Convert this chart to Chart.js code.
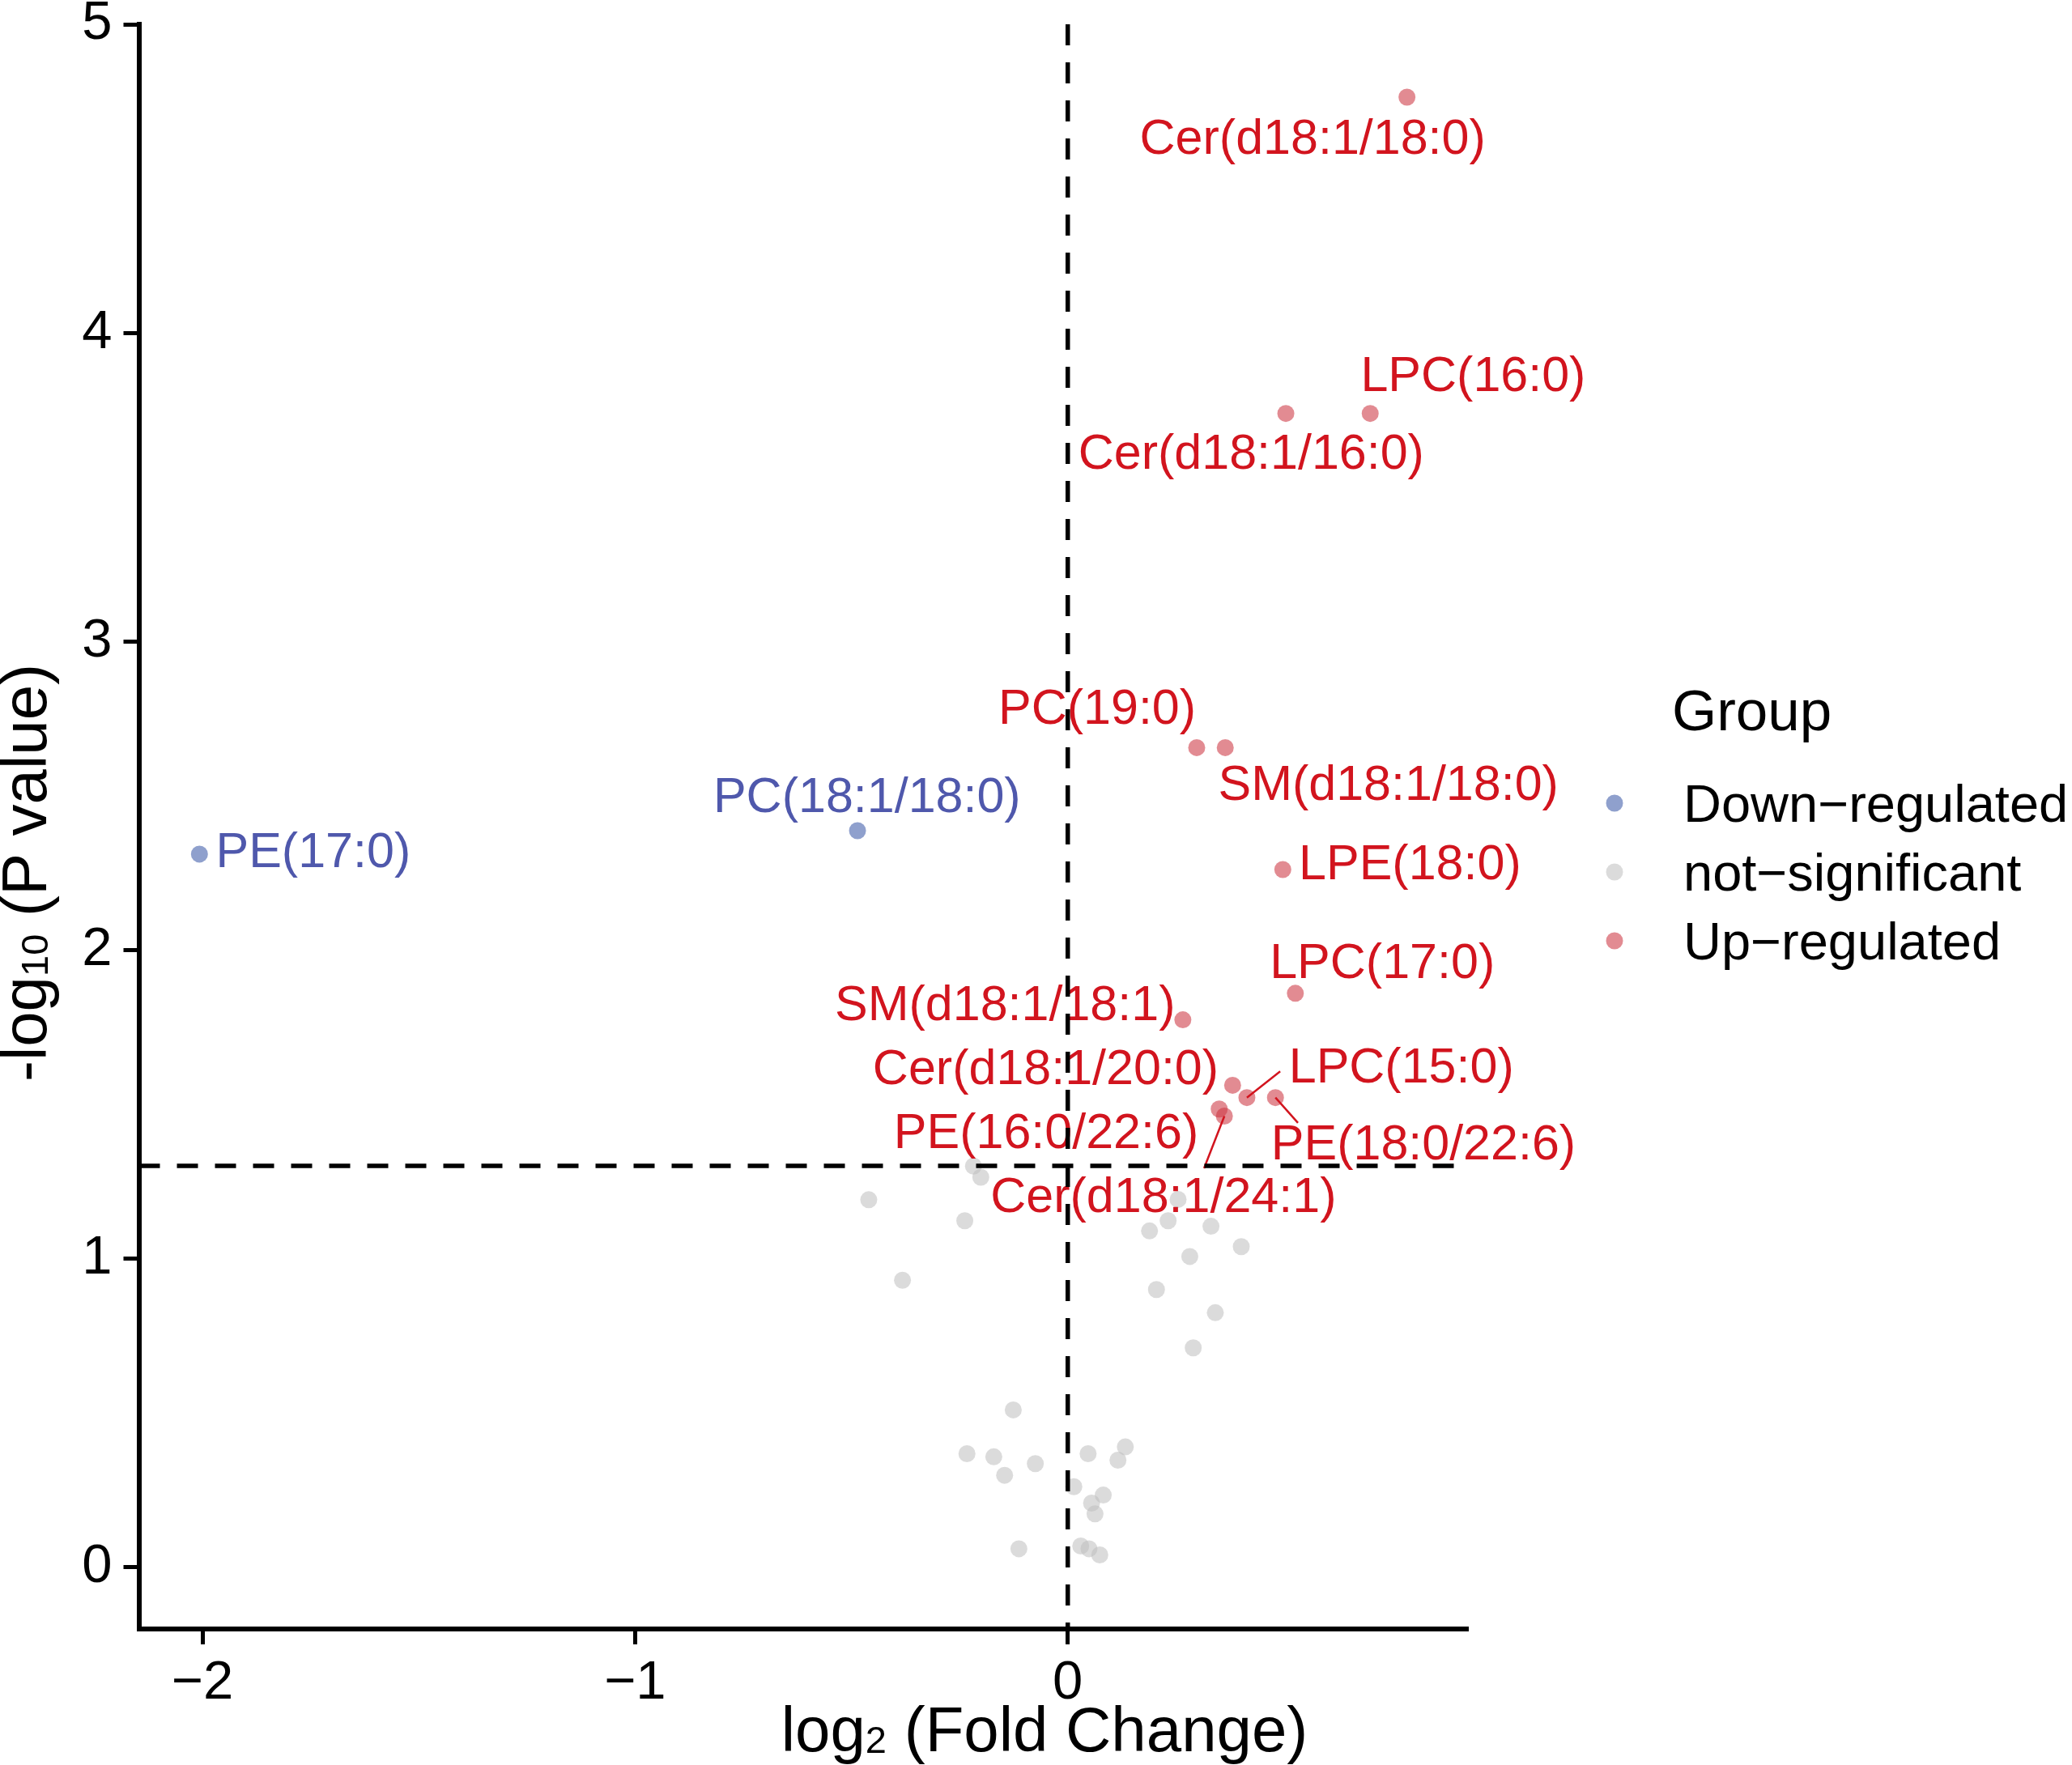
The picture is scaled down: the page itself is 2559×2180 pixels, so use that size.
<!DOCTYPE html>
<html>
<head>
<meta charset="utf-8">
<title>Volcano plot</title>
<script src="https://cdn.jsdelivr.net/npm/chart.js@4.4.1/dist/chart.umd.min.js"></script>
<style>
  html, body { margin: 0; padding: 0; background: #fff; }
  canvas { display: block; }
</style>
</head>
<body>
<canvas id="volcano" width="2559" height="2180" style="width:2559px;height:2180px"></canvas>
<script>
// not-significant lipids (log2 FC, -log10 p)
const nsX = [-0.218, -0.201, -0.460, -0.238, -0.382, 0.255, 0.232, 0.189, 0.331, 0.401,
             0.282, 0.205, 0.341, 0.290, -0.126, -0.233, -0.171, -0.146, -0.075, 0.047,
             0.133, 0.116, 0.014, 0.082, 0.055, 0.063, -0.113, 0.030, 0.049, 0.074];
const nsY = [1.300, 1.264, 1.191, 1.123, 0.930, 1.192, 1.123, 1.090, 1.105, 1.039,
             1.007, 0.900, 0.825, 0.711, 0.510, 0.368, 0.358, 0.298, 0.336, 0.368,
             0.390, 0.347, 0.261, 0.234, 0.208, 0.173, 0.060, 0.069, 0.060, 0.040];

// down-regulated lipids
const downNames = ['PE(17:0)', 'PC(18:1/18:0)'];
const downX = [-2.007, -0.486];
const downY = [2.311, 2.387];
// where ggrepel put the text (centre, data units)
const downLabelX = [-1.744, -0.464];
const downLabelY = [2.325, 2.505];

// up-regulated lipids
const upNames = ['Cer(d18:1/18:0)', 'LPC(16:0)', 'Cer(d18:1/16:0)', 'PC(19:0)', 'SM(d18:1/18:0)',
                 'LPE(18:0)', 'LPC(17:0)', 'SM(d18:1/18:1)', 'Cer(d18:1/20:0)', 'LPC(15:0)',
                 'PE(18:0/22:6)', 'PE(16:0/22:6)', 'Cer(d18:1/24:1)'];
const upX = [0.784, 0.699, 0.504, 0.298, 0.364, 0.497, 0.526, 0.266, 0.381, 0.414, 0.480, 0.350, 0.362];
const upY = [4.764, 3.739, 3.739, 2.656, 2.656, 2.261, 1.860, 1.774, 1.562, 1.522, 1.522, 1.485, 1.462];
const upLabelX = [0.566, 0.937, 0.424, 0.068, 0.741, 0.791, 0.727, -0.145, -0.051, 0.771, 0.822, -0.050, 0.221];
const upLabelY = [4.637, 3.869, 3.617, 2.791, 2.545, 2.288, 1.966, 1.829, 1.624, 1.629, 1.380, 1.415, 1.209];
// repel segments (end point, data units), null = no segment
const upSegX = [null, null, null, null, null, null, null, null, null, 0.491, 0.532, null, 0.315];
const upSegY = [null, null, null, null, null, null, null, null, null, 1.607, 1.440, null, 1.293];

const xTicks = [-2, -1, 0];
const yTicks = [0, 1, 2, 3, 4, 5];
const xRange = [-2.147, 0.925];
const yRange = [-0.2, 5.0];
const fcCut = 0;
const pCut = 1.301;   // -log10(0.05)
const groupNames = ['Down\u2212regulated', 'not\u2212significant', 'Up\u2212regulated'];

const FONT = '"Liberation Sans", Arial, Helvetica, sans-serif';
const colDown = 'rgba(62, 92, 168, 0.58)';
const colNs = 'rgba(190, 190, 190, 0.55)';
const colUp = 'rgba(205, 55, 68, 0.58)';
const txtDown = '#4F58AC';
const txtUp = '#D2141E';

function toPoints(xs, ys) {
  return xs.map((v, i) => ({ x: v, y: ys[i] }));
}

// draw a string made of parts, some of them subscripts; centred on x, baseline y
function drawRich(ctx, parts, x, y) {
  let total = 0;
  parts.forEach(p => {
    ctx.font = p.size + 'px ' + FONT;
    p.w = ctx.measureText(p.t).width;
    total += p.w;
  });
  let cx = x - total / 2;
  ctx.textAlign = 'left';
  ctx.textBaseline = 'alphabetic';
  parts.forEach(p => {
    ctx.font = p.size + 'px ' + FONT;
    ctx.fillText(p.t, cx, y + (p.dy || 0));
    cx += p.w;
  });
}

function drawLabels(ctx, xs, ys, names, lx, ly, sx, sy, color, xScale, yScale) {
  const size = 61;
  ctx.save();
  ctx.strokeStyle = color;
  ctx.lineWidth = 2.5;
  names.forEach((name, i) => {
    if (sx && sx[i] !== null) {
      ctx.beginPath();
      ctx.moveTo(xScale.getPixelForValue(xs[i]), yScale.getPixelForValue(ys[i]));
      ctx.lineTo(xScale.getPixelForValue(sx[i]), yScale.getPixelForValue(sy[i]));
      ctx.stroke();
    }
  });
  ctx.fillStyle = color;
  ctx.font = size + 'px ' + FONT;
  ctx.textAlign = 'center';
  ctx.textBaseline = 'alphabetic';
  names.forEach((name, i) => {
    const px = xScale.getPixelForValue(lx[i]);
    const py = yScale.getPixelForValue(ly[i]) + 0.358 * size;
    ctx.fillText(name, px, py);
  });
  ctx.restore();
}

const overlay = {
  id: 'volcanoOverlay',
  afterDatasetsDraw(chart) {
    const { ctx, chartArea } = chart;
    const xs = chart.scales.x, ys = chart.scales.y;

    drawLabels(ctx, downX, downY, downNames, downLabelX, downLabelY, null, null, txtDown, xs, ys);
    drawLabels(ctx, upX, upY, upNames, upLabelX, upLabelY, upSegX, upSegY, txtUp, xs, ys);

    // threshold lines on top
    ctx.save();
    ctx.strokeStyle = '#000';
    ctx.lineWidth = 5.5;
    ctx.setLineDash([26, 21]);
    const vx = xs.getPixelForValue(fcCut);
    ctx.beginPath();
    ctx.moveTo(vx, chartArea.top);
    ctx.lineTo(vx, chartArea.bottom);
    ctx.stroke();
    const hy = ys.getPixelForValue(pCut);
    ctx.beginPath();
    ctx.moveTo(chartArea.left, hy);
    ctx.lineTo(chartArea.right, hy);
    ctx.stroke();
    ctx.restore();
  },
  afterDraw(chart) {
    const { ctx } = chart;
    ctx.save();
    ctx.fillStyle = '#000';

    // x title
    drawRich(ctx, [
      { t: 'log', size: 78 },
      { t: '2', size: 47, dy: 2 },
      { t: ' (Fold Change)', size: 78 }
    ], 1290, 2163);

    // y title (rotated)
    ctx.save();
    ctx.translate(57, 1078);
    ctx.rotate(-Math.PI / 2);
    drawRich(ctx, [
      { t: '-log', size: 78 },
      { t: '10', size: 47, dy: 2 },
      { t: ' (P value)', size: 78 }
    ], 0, 0);
    ctx.restore();

    // legend
    ctx.textAlign = 'left';
    ctx.textBaseline = 'alphabetic';
    ctx.font = '71px ' + FONT;
    ctx.fillText('Group', 2065, 902);
    const dotY = [992, 1077, 1162];
    const dotCol = [colDown, colNs, colUp];
    ctx.font = '65px ' + FONT;
    groupNames.forEach((g, i) => {
      ctx.fillStyle = dotCol[i];
      ctx.beginPath();
      ctx.arc(1994, dotY[i], 10.5, 0, Math.PI * 2);
      ctx.fill();
      ctx.fillStyle = '#000';
      ctx.fillText(g, 2079, dotY[i] + 23);
    });
    ctx.restore();
  }
};

const axisGrid = {
  drawOnChartArea: false,
  drawTicks: true,
  tickLength: 19,
  tickWidth: 5,
  tickColor: '#000',
  color: '#000'
};
const axisBorder = { display: true, color: '#000', width: 6 };
const tickFont = { family: FONT, size: 67 };

new Chart(document.getElementById('volcano'), {
  type: 'scatter',
  data: {
    datasets: [
      { label: groupNames[1], data: toPoints(nsX, nsY), backgroundColor: colNs, borderWidth: 0, pointRadius: 10.5 },
      { label: groupNames[0], data: toPoints(downX, downY), backgroundColor: colDown, borderWidth: 0, pointRadius: 10.5 },
      { label: groupNames[2], data: toPoints(upX, upY), backgroundColor: colUp, borderWidth: 0, pointRadius: 10.5 }
    ]
  },
  options: {
    responsive: false,
    animation: false,
    devicePixelRatio: 1,
    layout: { padding: { top: 30, right: 746, left: 0, bottom: 0 } },
    plugins: {
      legend: { display: false },
      tooltip: { enabled: false }
    },
    scales: {
      x: {
        type: 'linear',
        min: xRange[0],
        max: xRange[1],
        afterBuildTicks: s => { s.ticks = xTicks.map(v => ({ value: v })); },
        afterFit: s => { s.height = 168; s.paddingLeft = 0; s.paddingRight = 0; },
        grid: axisGrid,
        border: axisBorder,
        ticks: {
          color: '#000',
          font: tickFont,
          padding: 8,
          maxRotation: 0,
          autoSkip: false,
          callback: v => (v < 0 ? '\u2212' + Math.abs(v) : String(v))
        }
      },
      y: {
        type: 'linear',
        min: yRange[0],
        max: yRange[1],
        afterBuildTicks: s => { s.ticks = yTicks.map(v => ({ value: v })); },
        afterFit: s => { s.width = 171.5; s.paddingTop = 0; s.paddingBottom = 0; },
        grid: axisGrid,
        border: axisBorder,
        ticks: {
          color: '#000',
          font: tickFont,
          padding: 14,
          autoSkip: false,
          callback: v => String(v)
        }
      }
    }
  },
  plugins: [overlay]
});
</script>
</body>
</html>
